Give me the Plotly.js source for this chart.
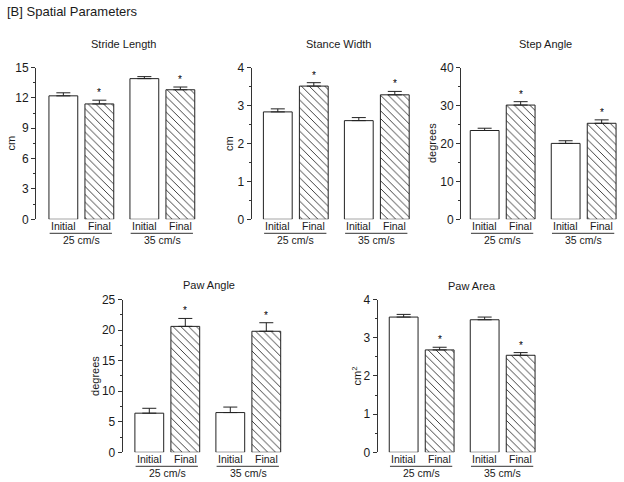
<!DOCTYPE html>
<html>
<head>
<meta charset="utf-8">
<script src="https://cdn.plot.ly/plotly-3.0.1.min.js"></script>
<style>html,body{margin:0;padding:0;background:#fff;}#chart{width:624px;height:482px;}</style>
</head>
<body>
<div id="chart"></div>
<script>
// ---- data ----
var barLabels = ["Initial", "Final", "Initial", "Final"];
var groupLabels = ["25 cm/s", "35 cm/s"];
var significant = [false, true, false, true];

var strideLength = [12.2, 11.4, 13.9, 12.8];
var strideLengthErr = [0.3, 0.37, 0.2, 0.27];
var stanceWidth = [2.83, 3.51, 2.60, 3.28];
var stanceWidthErr = [0.08, 0.09, 0.08, 0.09];
var stepAngle = [23.4, 30.1, 20.0, 25.3];
var stepAngleErr = [0.6, 0.9, 0.7, 0.9];
var pawAngle = [6.4, 20.6, 6.5, 19.8];
var pawAngleErr = [0.8, 1.3, 0.9, 1.4];
var pawArea = [3.54, 2.68, 3.47, 2.54];
var pawAreaErr = [0.07, 0.07, 0.07, 0.07];

var panelTitles = ["Stride Length", "Stance Width", "Step Angle", "Paw Angle", "Paw Area"];
var yTitles = ["cm", "cm", "degrees", "degrees", "cm<sup>2</sup>"];
var yMax = [15, 4, 40, 25, 4];
var yDtick = [3, 1, 10, 5, 1];

// ---- layout geometry (pixels) ----
var W = 624, H = 482, U = 36;
var xpos = [0, 1, 2.25, 3.25];
var geom = [
  {L: 36,    C0: 63.35,  top: 67.5,  bot: 219.3, ytx: 11,    tx: 123, ty: 44},
  {L: 251.7, C0: 277.8,  top: 67.5,  bot: 219.3, ytx: 229.5, tx: 338, ty: 44},
  {L: 461,   C0: 484.65, top: 67.5,  bot: 219.3, ytx: 432.7, tx: 545, ty: 44},
  {L: 122.7, C0: 149.3,  top: 299.5, bot: 452.3, ytx: 95,    tx: 209, ty: 285},
  {L: 377.7, C0: 403.65, top: 299.5, bot: 452.3, ytx: 356.5, tx: 472, ty: 285.5}
];
var values = [strideLength, stanceWidth, stepAngle, pawAngle, pawArea];
var errs = [strideLengthErr, stanceWidthErr, stepAngleErr, pawAngleErr, pawAreaErr];

function px(x) { return x / W; }
function py(y) { return 1 - y / H; }

var FONT = "Liberation Sans, Arial, sans-serif";
var TXT = "#1a1a1a";
var data = [], annotations = [], shapes = [];
var layout = {
  width: W, height: H, margin: {l: 0, r: 0, t: 0, b: 0},
  paper_bgcolor: "#fff", plot_bgcolor: "rgba(0,0,0,0)",
  showlegend: false, font: {family: FONT, color: TXT, size: 11},
  bargap: 0
};

annotations.push({xref: "paper", yref: "paper", x: px(5), y: py(11.5), xanchor: "left", yanchor: "middle",
  text: "[B] Spatial Parameters", showarrow: false, font: {size: 13, color: TXT, family: FONT}});

for (var i = 0; i < 5; i++) {
  var g = geom[i];
  var xa = "xaxis" + (i + 1), ya = "yaxis" + (i + 1);
  var xr = "x" + (i + 1), yr = "y" + (i + 1);
  var xmin = -(g.C0 - g.L) / U, xmax = 3.85;
  var right = g.L + (xmax - xmin) * U;
  layout[xa] = {domain: [px(g.L), px(right)], range: [xmin, xmax], visible: false, anchor: yr, fixedrange: true};
  layout[ya] = {domain: [py(g.bot), py(g.top)], range: [0, yMax[i]], anchor: xr,
    showline: true, linecolor: "#333", linewidth: 1, showgrid: false, zeroline: false,
    ticks: "outside", ticklen: 4, tickwidth: 1, tickcolor: "#333", dtick: yDtick[i], tick0: 0,
    minor: {dtick: yDtick[i] / 2, ticks: "outside", ticklen: 2, tickcolor: "#333", showgrid: false},
    tickfont: {size: 12, color: TXT, family: FONT}, fixedrange: true};

  var v = values[i], e = errs[i];
  data.push({
    type: "bar", x: xpos, y: v, xaxis: xr, yaxis: yr, width: 0.8,
    marker: {color: "#fff", line: {color: "#222", width: 1},
      pattern: {shape: significant.map(function (s) { return s ? "\\" : ""; }),
        fgcolor: "#333", bgcolor: "#fff", size: 5.5, solidity: 0.17, fillmode: "replace"}},
    error_y: {type: "data", array: e, arrayminus: e.map(function () { return 0; }), symmetric: false,
      color: "#222", thickness: 1, width: 7},
    hoverinfo: "skip"
  });

  // titles
  annotations.push({xref: "paper", yref: "paper", x: px(g.tx), y: py(g.ty), xanchor: "center", yanchor: "middle",
    text: panelTitles[i], showarrow: false, font: {size: 11, color: TXT, family: FONT}});
  annotations.push({xref: "paper", yref: "paper", x: px(g.ytx), y: py((g.top + g.bot) / 2), xanchor: "center", yanchor: "middle",
    text: yTitles[i], textangle: -90, showarrow: false, font: {size: 11, color: TXT, family: FONT}});

  for (var k = 0; k < 4; k++) {
    annotations.push({xref: xr, yref: "paper", x: xpos[k], y: py(g.bot + 7), xanchor: "center", yanchor: "middle",
      text: barLabels[k], showarrow: false, font: {size: 10.5, color: TXT, family: FONT}});
    if (significant[k]) {
      annotations.push({xref: xr, yref: yr, x: xpos[k], y: v[k] + e[k], xanchor: "center", yanchor: "bottom",
        yshift: 0, text: "*", showarrow: false, font: {size: 10, color: "#000", family: FONT}});
    }
  }
  for (var gi = 0; gi < 2; gi++) {
    var a = xpos[2 * gi], b = xpos[2 * gi + 1];
    shapes.push({type: "line", xref: xr, yref: "paper", x0: a - 0.38, x1: b + 0.35,
      y0: py(g.bot + 14), y1: py(g.bot + 14), line: {color: "#333", width: 1}});
    annotations.push({xref: xr, yref: "paper", x: (a + b) / 2, y: py(g.bot + 20.8), xanchor: "center", yanchor: "middle",
      text: groupLabels[gi], showarrow: false, font: {size: 10.5, color: TXT, family: FONT}});
  }
}
layout.annotations = annotations;
layout.shapes = shapes;
Plotly.newPlot("chart", data, layout, {staticPlot: true, displayModeBar: false});
</script>
</body>
</html>
